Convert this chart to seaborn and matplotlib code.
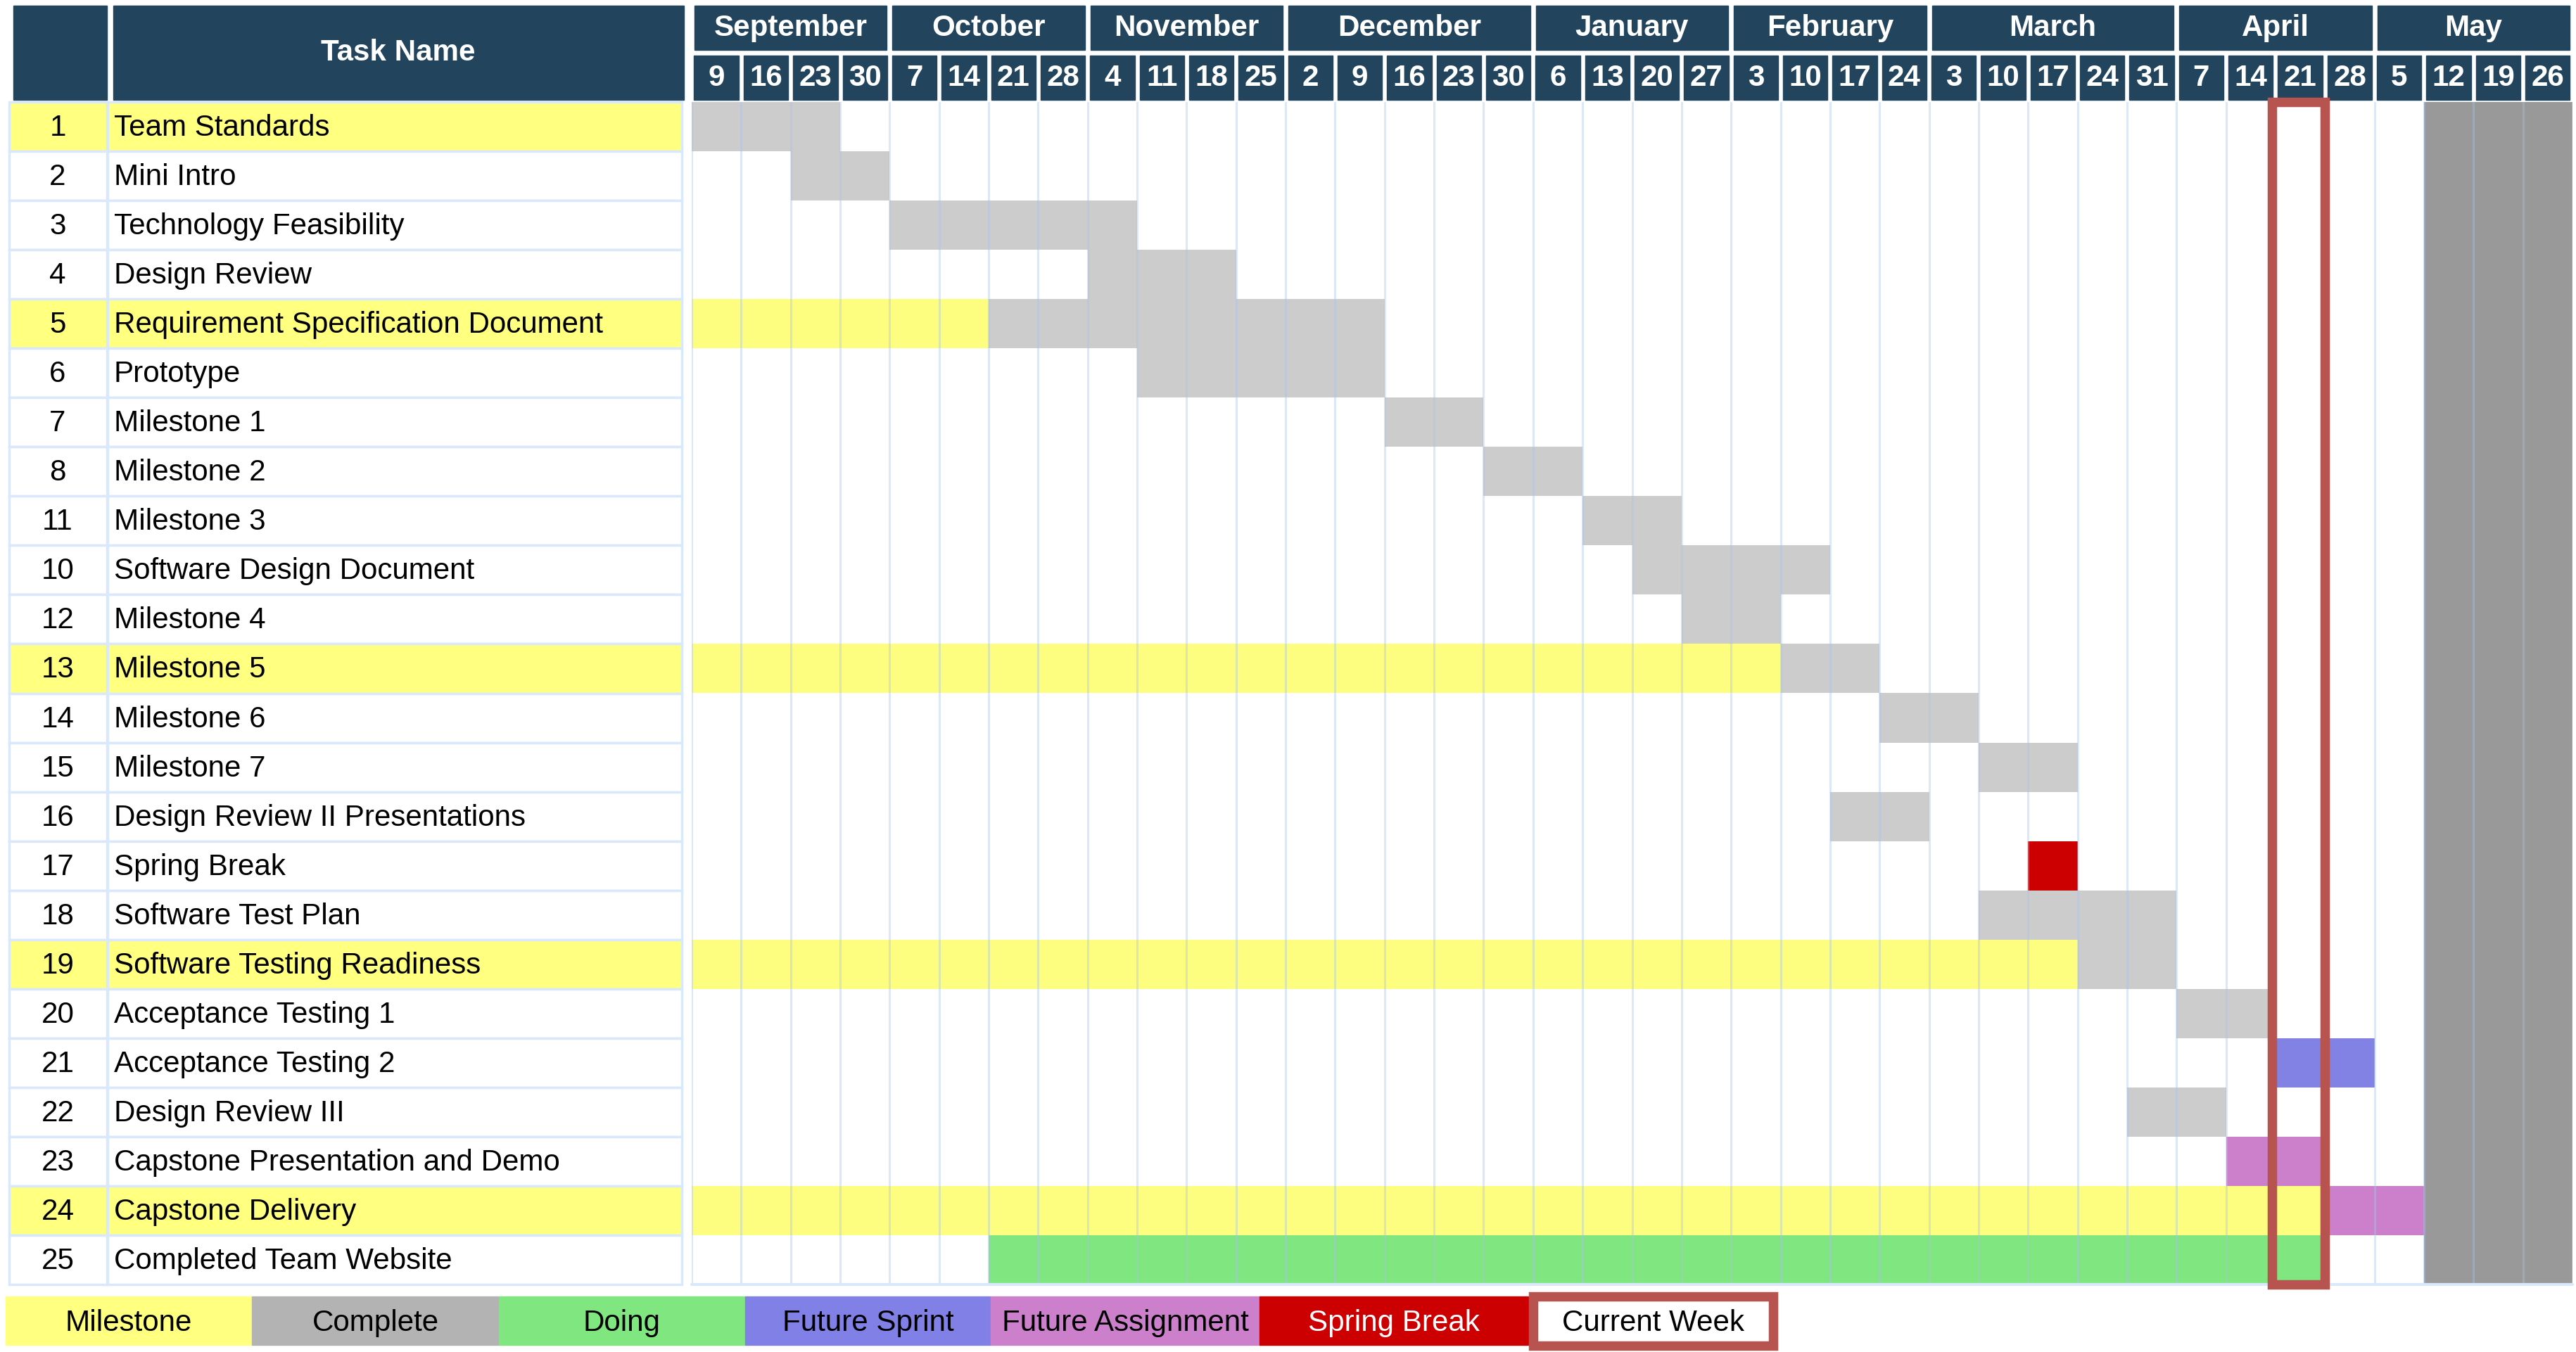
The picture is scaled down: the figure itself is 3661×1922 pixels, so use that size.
import numpy as np
import pandas as pd
import matplotlib
matplotlib.use("Agg")
import matplotlib.pyplot as plt
from matplotlib.patches import Rectangle
from matplotlib.colors import ListedColormap
import seaborn as sns

# ---------------- data ----------------
months = ["September", "October", "November", "December", "January",
          "February", "March", "April", "May"]
week_days = [[9, 16, 23, 30], [7, 14, 21, 28], [4, 11, 18, 25], [2, 9, 16, 23, 30],
             [6, 13, 20, 27], [3, 10, 17, 24], [3, 10, 17, 24, 31], [7, 14, 21, 28],
             [5, 12, 19, 26]]

task_ids = [1, 2, 3, 4, 5, 6, 7, 8, 11, 10, 12, 13, 14, 15, 16, 17, 18, 19, 20,
            21, 22, 23, 24, 25]
task_names = ["Team Standards", "Mini Intro", "Technology Feasibility", "Design Review",
              "Requirement Specification Document", "Prototype", "Milestone 1",
              "Milestone 2", "Milestone 3", "Software Design Document", "Milestone 4",
              "Milestone 5", "Milestone 6", "Milestone 7", "Design Review II Presentations",
              "Spring Break", "Software Test Plan", "Software Testing Readiness",
              "Acceptance Testing 1", "Acceptance Testing 2", "Design Review III",
              "Capstone Presentation and Demo", "Capstone Delivery",
              "Completed Team Website"]
milestone_ids = [1, 5, 13, 19, 24]
start_week = ["Sep 9", "Sep 23", "Oct 7", "Nov 4", "Oct 21", "Nov 11", "Dec 16",
              "Dec 30", "Jan 13", "Jan 20", "Jan 27", "Feb 10", "Feb 24", "Mar 10",
              "Feb 17", "Mar 17", "Mar 10", "Mar 24", "Apr 7", "Apr 21", "Mar 31",
              "Apr 14", "Apr 28", "Oct 21"]
duration_weeks = [3, 2, 5, 3, 8, 5, 2, 2, 2, 4, 2, 2, 2, 2, 2, 1, 4, 2, 2, 2, 2, 2, 2, 27]
status = ["Complete", "Complete", "Complete", "Complete", "Complete", "Complete",
          "Complete", "Complete", "Complete", "Complete", "Complete", "Complete",
          "Complete", "Complete", "Complete", "Spring Break", "Complete", "Complete",
          "Complete", "Future Sprint", "Complete", "Future Assignment",
          "Future Assignment", "Doing"]
closed_weeks = ["May 12", "May 19", "May 26"]
current_week = "Apr 21"

legend_labels = ["Milestone", "Complete", "Doing", "Future Sprint",
                 "Future Assignment", "Spring Break", "Current Week"]

# ---------------- styles ----------------
NAVY = "#23445D"
GRID = "#DAE8FC"
RED_BOX = "#B85450"
cell_colors = {"Milestone": "#FDFD7F", "Complete": "#CCCCCC", "Doing": "#80E680",
               "Future Sprint": "#8282E4", "Future Assignment": "#CC80CC",
               "Spring Break": "#CC0000", "Closed": "#999999"}
legend_colors = {"Milestone": "#FFFF80", "Complete": "#B3B3B3", "Doing": "#80E680",
                 "Future Sprint": "#8080E6", "Future Assignment": "#CC80CC",
                 "Spring Break": "#CC0000", "Current Week": "#FFFFFF"}
FONT = ["Liberation Sans", "DejaVu Sans"]
FS = 30.3

sns.set_theme(style="white")
plt.rcParams["font.family"] = FONT

W, H = 3661, 1922
fig = plt.figure(figsize=(W / 100, H / 100), dpi=100)
fig.patch.set_facecolor("white")

# background axes in pixel coordinates for table, header, legend
ax0 = fig.add_axes([0, 0, 1, 1])
ax0.set_xlim(0, W)
ax0.set_ylim(H, 0)
ax0.axis("off")

# chart geometry
X0, X1 = 983, 3656
Y0, Y1 = 145, 1826
week_labels = [f"{m[:3]} {d}" for m, days in zip(months, week_days) for d in days]
n_weeks = len(week_labels)
n_rows = len(task_ids)
pitch = (X1 - X0) / n_weeks
row_h = (Y1 - Y0) / n_rows

# ---------------- gantt grid via seaborn heatmap ----------------
codes = list(cell_colors.keys())
mat = np.full((n_rows, n_weeks), np.nan)
for i, (tid, sw, dur, st) in enumerate(zip(task_ids, start_week, duration_weeks, status)):
    s = week_labels.index(sw)
    if tid in milestone_ids:
        mat[i, :s] = codes.index("Milestone")
    mat[i, s:s + dur] = codes.index(st)
for cw in closed_weeks:
    mat[:, week_labels.index(cw)] = codes.index("Closed")
df = pd.DataFrame(mat, index=task_ids, columns=week_labels)

ax = fig.add_axes([X0 / W, 1 - Y1 / H, (X1 - X0) / W, (Y1 - Y0) / H])
sns.heatmap(df, ax=ax, cmap=ListedColormap([cell_colors[c] for c in codes]),
            vmin=-0.5, vmax=len(codes) - 0.5, cbar=False,
            xticklabels=False, yticklabels=False, linewidths=0)
ax.set_xlabel("")
ax.set_ylabel("")
for k in range(n_weeks + 1):
    ax.axvline(k, color="#A9C4EB", alpha=0.4, lw=2.2, zorder=3)
ax.axhline(n_rows, color=GRID, lw=3, zorder=3, clip_on=False)

# current week box
cwi = week_labels.index(current_week)
ax.add_patch(Rectangle((cwi - 0.07, 0), 1.07, n_rows, fill=False, edgecolor=RED_BOX,
                       lw=9.7, zorder=6, clip_on=False, joinstyle="miter"))

# ---------------- header ----------------
ax0.add_patch(Rectangle((19, 8), 133, 134, color=NAVY))
ax0.add_patch(Rectangle((161, 8), 811, 134, color=NAVY))
ax0.text(566, 75, "Task Name", color="white", fontsize=FS, fontweight="bold",
         ha="center", va="center")
k = 0
for m, days in zip(months, week_days):
    xa = X0 + k * pitch
    xb = X0 + (k + len(days)) * pitch
    ax0.add_patch(Rectangle((xa + 4, 8), xb - xa - 8, 63, color=NAVY))
    ax0.text((xa + xb) / 2, 40, m, color="white", fontsize=FS, fontweight="bold",
             ha="center", va="center")
    for d in days:
        xa = X0 + k * pitch
        ax0.add_patch(Rectangle((xa + 3.5, 79), pitch - 7, 63, color=NAVY))
        ax0.text(xa + pitch / 2, 111, str(d), color="white", fontsize=FS,
                 fontweight="bold", ha="center", va="center")
        k += 1

# ---------------- table rows ----------------
for i, (tid, name) in enumerate(zip(task_ids, task_names)):
    top = Y0 + i * row_h
    fc = legend_colors["Milestone"] if tid in milestone_ids else "white"
    ax0.add_patch(Rectangle((13, top), 139, row_h, facecolor=fc, edgecolor=GRID, lw=2.5))
    ax0.add_patch(Rectangle((153, top), 816, row_h, facecolor=fc, edgecolor=GRID, lw=2.5))
    ax0.text(82, top + row_h / 2 + 2, str(tid), fontsize=FS, ha="center", va="center",
             color="black")
    ax0.text(162, top + row_h / 2 + 2, name, fontsize=FS, ha="left", va="center",
             color="black")

# ---------------- legend ----------------
edges = [8, 358, 709, 1059, 1408, 1790, 2172, 2527]
for lab, xa, xb in zip(legend_labels, edges[:-1], edges[1:]):
    if lab == "Current Week":
        ax0.add_patch(Rectangle((xa + 6.75, 1836 + 6.75), xb - xa - 13.5, 84 - 13.5,
                                facecolor="white", edgecolor=RED_BOX, lw=9.7,
                                joinstyle="miter"))
        tc = "black"
    else:
        ax0.add_patch(Rectangle((xa, 1843), xb - xa, 69, color=legend_colors[lab]))
        tc = "white" if lab == "Spring Break" else "black"
    ax0.text((xa + xb) / 2, 1881, lab, fontsize=FS, ha="center", va="center", color=tc)

fig.savefig("out.png", dpi=100, facecolor="white")
